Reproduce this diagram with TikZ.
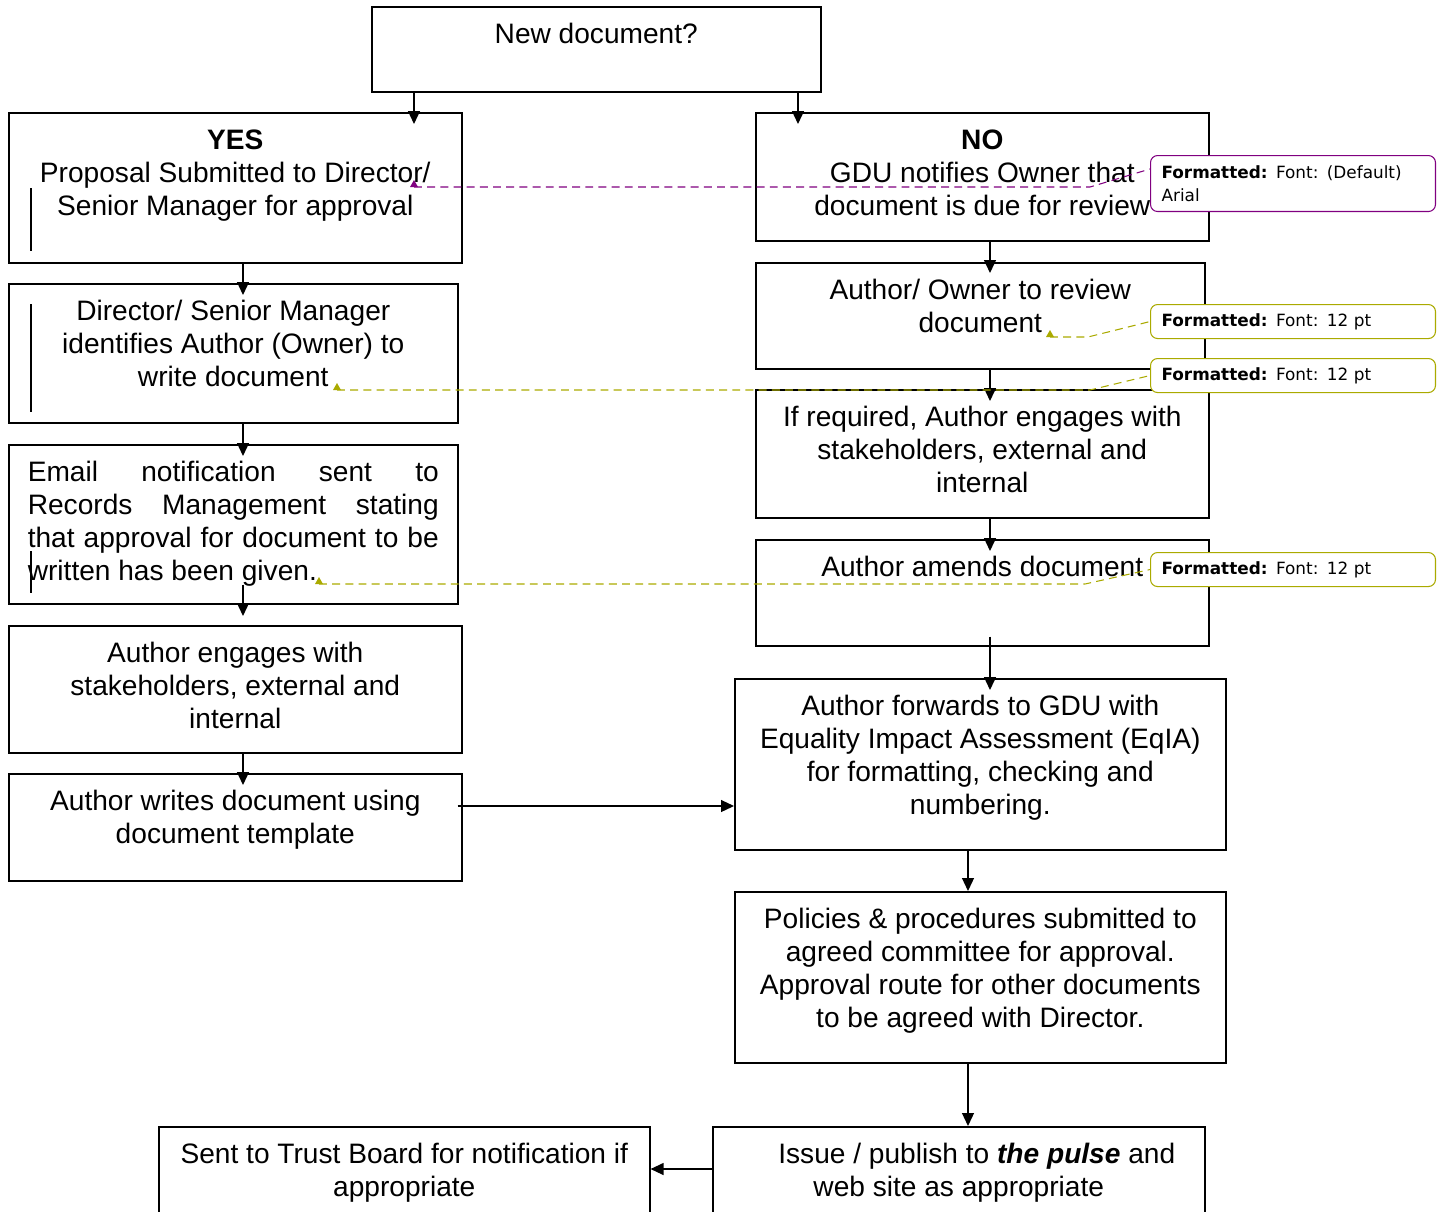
\documentclass[tikz,border=0pt]{standalone}
\usepackage{fontspec}
\setmainfont{Liberation Sans}
\newfontfamily\notefont{DejaVu Sans}
\usetikzlibrary{arrows.meta,calc}
\definecolor{notepurple}{RGB}{128,0,128}
\definecolor{noteolive}{RGB}{170,170,0}
\newlength\px
\setlength\px{0.02cm}
\newcommand{\boxtext}[3]{\parbox[t][\dimexpr #2\px-28\px\relax][t]{\dimexpr #1\px-20\px\relax}{\centering\strut #3}}

\begin{document}
\begin{tikzpicture}[
    x=0.02cm, y=-0.02cm,
    stepbox/.style={
        rectangle,
        draw,
        line width=0.9pt,
        anchor=north west,
        inner xsep=0.2cm,
        inner ysep=0.28cm,
        font=\fontsize{16}{18.7}\selectfont
    },
    notebox/.style={
        rectangle,
        draw,
        fill=white,
        line width=0.6pt,
        rounded corners=4pt,
        anchor=north west,
        minimum width=5.7cm,
        text width=5.26cm,
        inner xsep=0.22cm,
        align=left,
        font=\notefont\fontsize{9.6}{13}\selectfont
    },
    notelink/.style={dash pattern=on 4.5pt off 3pt, line width=0.6pt},
    arrow/.style={-{Triangle[length=7.4pt,width=6.8pt]}, line width=0.8pt}
]
    \useasboundingbox (0,0) rectangle (1437,1211);
    \clip (0,0) rectangle (1437,1211);

    % Nodes
    \node[stepbox] (new) at (371,6) {\boxtext{449}{85}{New document?}};

    \node[stepbox] (yes) at (8,112) {\boxtext{453}{150}{\textbf{YES}\\Proposal Submitted to Director/\\Senior Manager for approval}};
    \node[stepbox] (director) at (8,283) {\boxtext{449}{139}{Director/ Senior Manager\\identifies Author (Owner) to\\write document}};
    \node[stepbox,inner xsep=0.38cm] (email) at (8,444) {\parbox[t][\dimexpr 159\px-28\px\relax][t]{411\px}{\strut Email notification sent to\linebreak Records Management stating\linebreak that approval for document to be\linebreak written has been given.}};
    \node[stepbox] (engage) at (8,625) {\boxtext{453}{127}{Author engages with\\stakeholders, external and\\internal}};
    \node[stepbox] (write) at (8,773) {\boxtext{453}{107}{Author writes document using\\document template}};

    \node[stepbox] (no) at (755,112) {\boxtext{453}{128}{\textbf{NO}\\GDU notifies Owner that\\document is due for review}};
    \node[stepbox] (review) at (755,262) {\boxtext{449}{106}{Author/ Owner to review\\document}};
    \node[stepbox] (stakeholders) at (755,389) {\boxtext{453}{128}{If required, Author engages with\\stakeholders, external and\\internal}};
    \node[stepbox] (amends) at (755,539) {\boxtext{453}{106}{Author amends document}};
    \node[stepbox] (forwards) at (734,678) {\boxtext{491}{171}{Author forwards to GDU with\\Equality Impact Assessment (EqIA)\\for formatting, checking and\\numbering.}};
    \node[stepbox] (committee) at (734,891) {\boxtext{491}{171}{Policies \& procedures submitted to\\agreed committee for approval.\\Approval route for other documents\\to be agreed with Director.}};
    \node[stepbox] (issue) at (712,1126) {\boxtext{492}{120}{\hspace*{36\px}Issue / publish to \textbf{\textit{the pulse}} and\\web site as appropriate}};
    \node[stepbox] (trust) at (158,1126) {\boxtext{491}{120}{Sent to Trust Board for notification if\\appropriate}};

    % Cursor marks
    \draw[line width=1pt] (31,188) -- (31,251);
    \draw[line width=1pt] (31,304) -- (31,412);
    \draw[line width=1pt] (31,551) -- (31,593);

    % Arrows
    \draw[arrow] (414,0 |- new.south) -- ($(414,0 |- yes.north)+(0,12)$);
    \draw[arrow] (798,0 |- new.south) -- ($(798,0 |- no.north)+(0,12)$);
    \draw[arrow] (243,0 |- yes.south) -- ($(243,0 |- director.north)+(0,12)$);
    \draw[arrow] (243,0 |- director.south) -- ($(243,0 |- email.north)+(0,12)$);
    \draw[arrow] ($(243,0 |- email.south)+(0,-20)$) -- ($(243,0 |- engage.north)+(0,-9)$);
    \draw[arrow] (243,0 |- engage.south) -- ($(243,0 |- write.north)+(0,12)$);
    \draw[arrow] (990,0 |- no.south) -- ($(990,0 |- review.north)+(0,11)$);
    \draw[arrow] (990,0 |- review.south) -- ($(990,0 |- stakeholders.north)+(0,12)$);
    \draw[arrow] (990,0 |- stakeholders.south) -- ($(990,0 |- amends.north)+(0,12)$);
    \draw[arrow] ($(990,0 |- amends.south)+(0,-10)$) -- ($(990,0 |- forwards.north)+(0,12)$);
    \draw[arrow] ($(write.east |- 0,806)+(-5,0)$) -- (forwards.west |- 0,806);
    \draw[arrow] (968,0 |- forwards.south) -- (968,0 |- committee.north);
    \draw[arrow] (968,0 |- committee.south) -- (968,0 |- issue.north);
    \draw[arrow] (issue.west |- 0,1169) -- (trust.east |- 0,1169);

    % Comment balloons
    \coordinate (mark1) at (414,187);
    \coordinate (mark2) at (1050,337);
    \coordinate (mark3) at (337,390);
    \coordinate (mark4) at (319,584);
    \fill[notepurple] (mark1) ++(-4,0) -- ++(8,0) -- ++(-4,-7) -- cycle;
    \fill[noteolive] (mark2) ++(-4,0) -- ++(8,0) -- ++(-4,-7) -- cycle;
    \fill[noteolive] (mark3) ++(-4,0) -- ++(8,0) -- ++(-4,-7) -- cycle;
    \fill[noteolive] (mark4) ++(-4,0) -- ++(8,0) -- ++(-4,-7) -- cycle;

    \node[notebox,draw=notepurple,minimum height=1.12cm] (note1) at (1150,155) {\textbf{Formatted:} Font: (Default)\\Arial};
    \node[notebox,draw=noteolive,minimum height=0.68cm] (note2) at (1150,304) {\textbf{Formatted:} Font: 12 pt};
    \node[notebox,draw=noteolive,minimum height=0.68cm] (note3) at (1150,358) {\textbf{Formatted:} Font: 12 pt};
    \node[notebox,draw=noteolive,minimum height=0.68cm] (note4) at (1150,552) {\textbf{Formatted:} Font: 12 pt};

    \draw[notelink,notepurple] (mark1) -- (1090,187) -- ($(note1.north west)+(0,14)$);
    \draw[notelink,noteolive] (mark2) -- (1088,337) -- (note2.west);
    \draw[notelink,noteolive] (mark3) -- (1090,390) -- (note3.west);
    \draw[notelink,noteolive] (mark4) -- (1085,584) -- (note4.west);
\end{tikzpicture}
\end{document}
